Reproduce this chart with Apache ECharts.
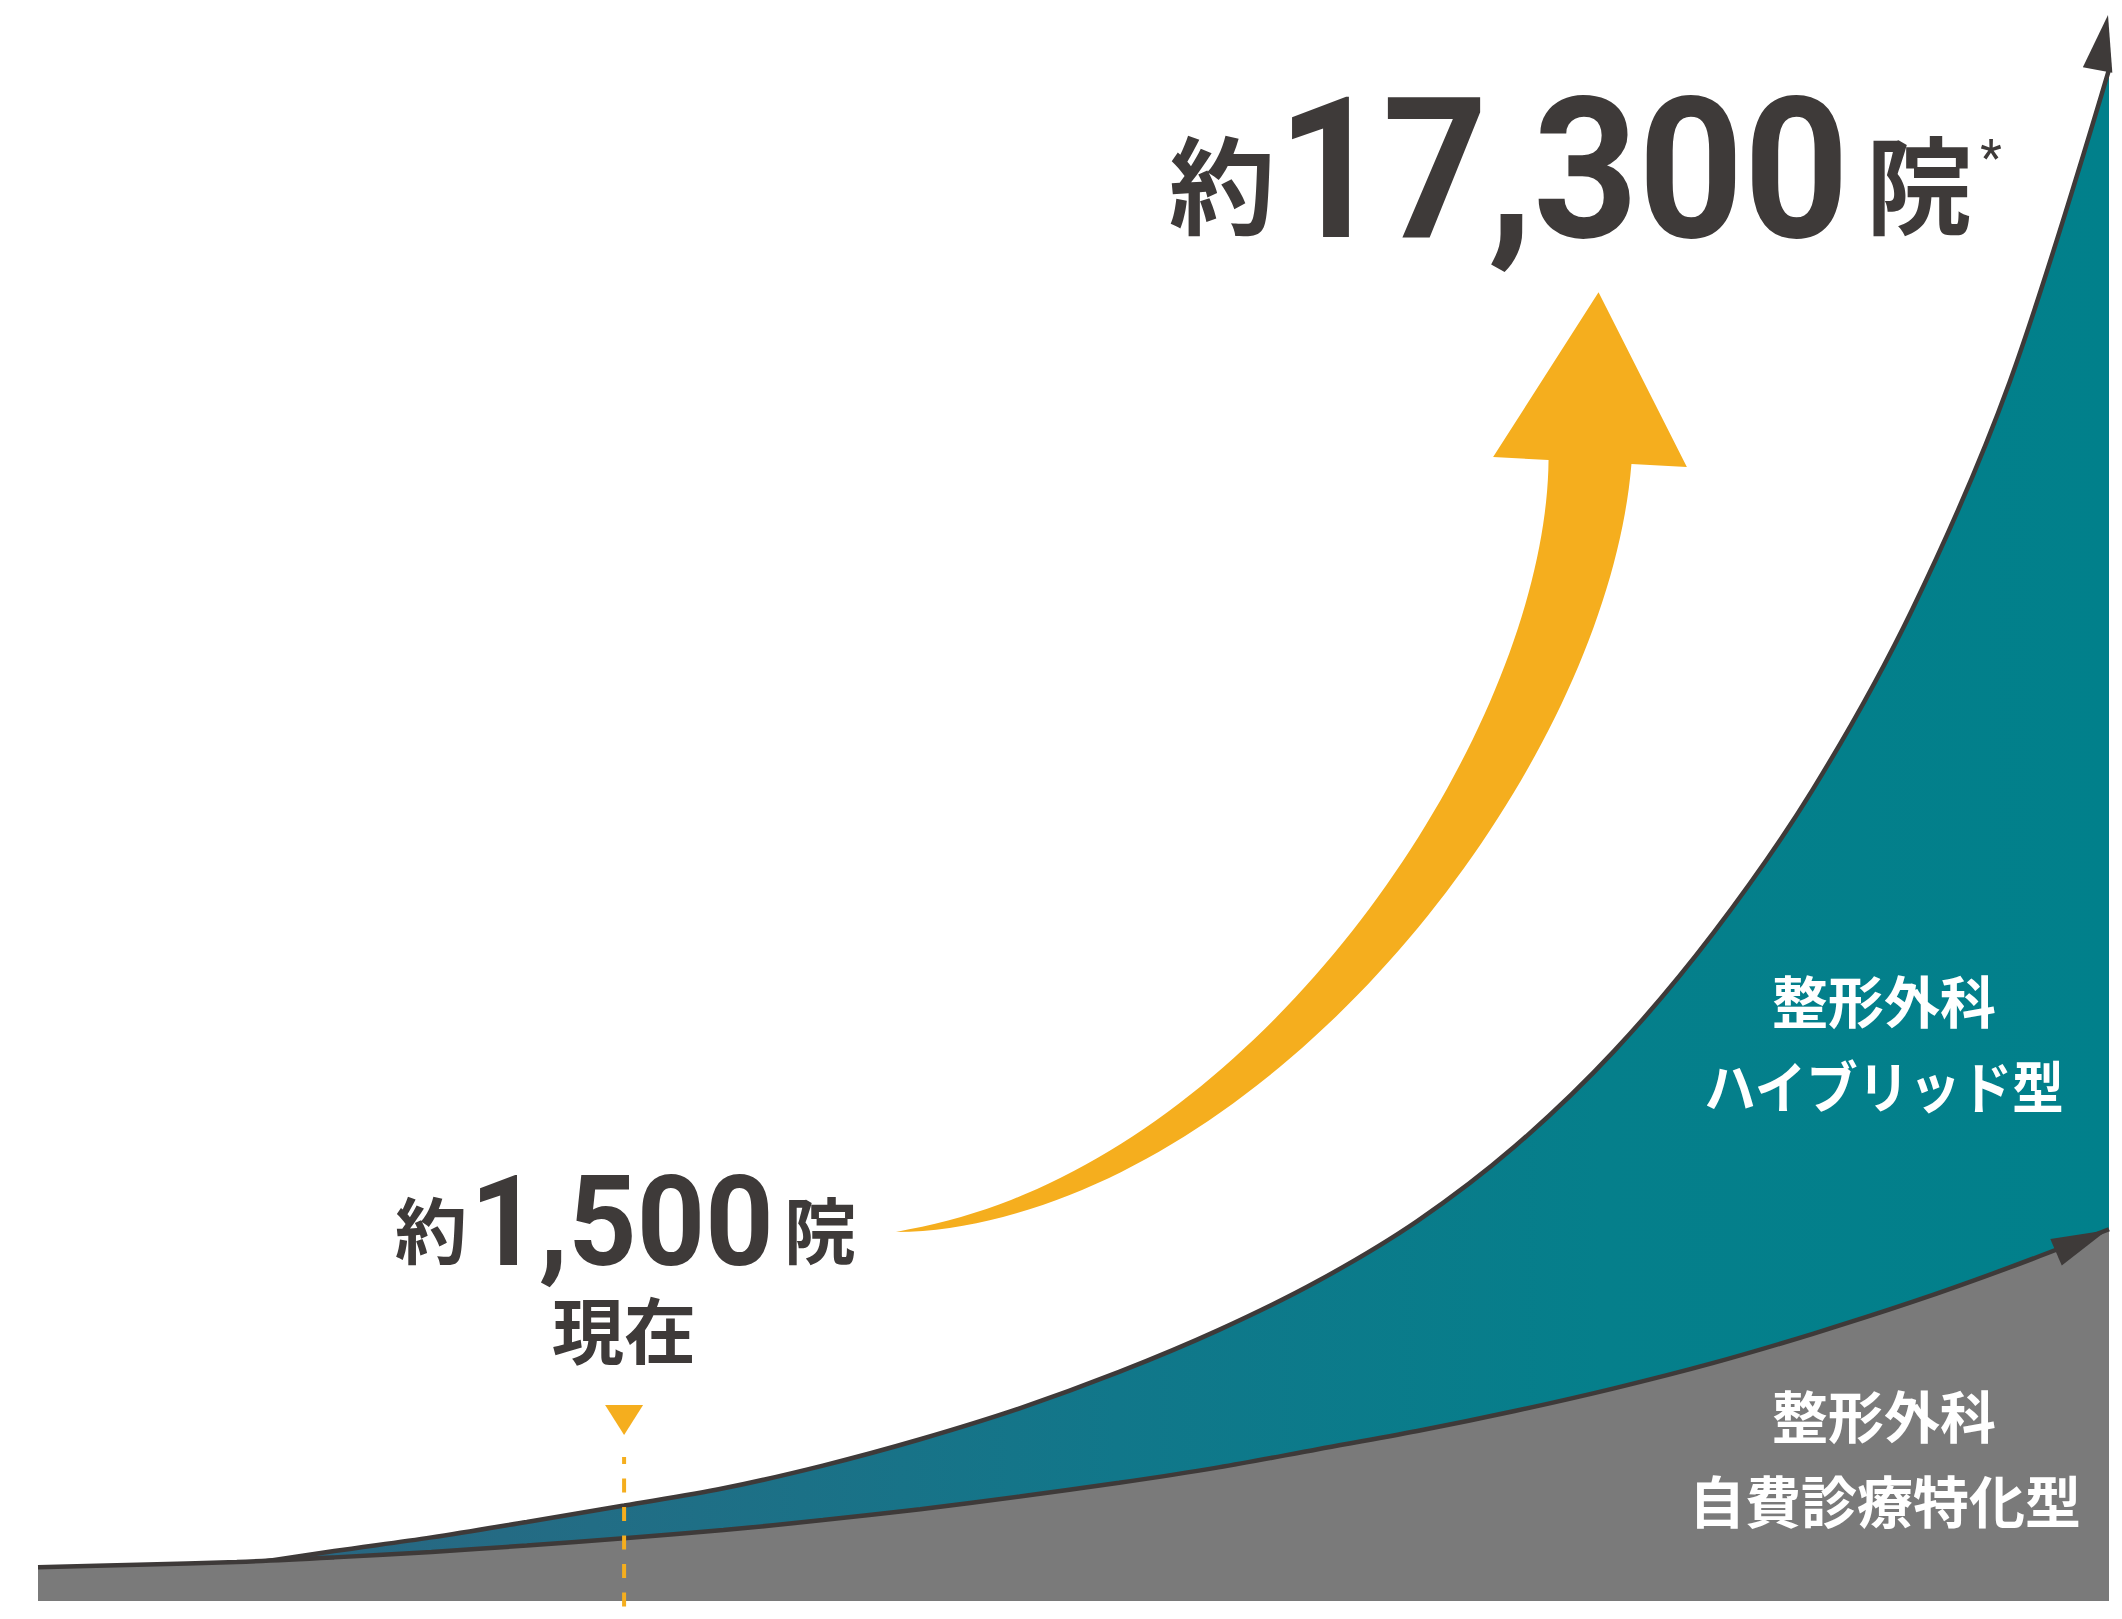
<!DOCTYPE html>
<html>
<head>
<meta charset="utf-8">
<script src="https://cdn.jsdelivr.net/npm/echarts@6/dist/echarts.min.js"></script>
<style>
  html, body { margin: 0; padding: 0; background: #ffffff; }
  #chart { width: 2122px; height: 1619px; }
</style>
</head>
<body>
<div id="chart"></div>
<script>
// Outlook for orthopedic clinics: total (hybrid type on top) and self-pay specialised type.
// x: progress along the timeline (0–100), y: number of clinics.

// Sampling positions along the timeline
const timeline = [0, 4.8, 9.6, 14.3, 19.0, 23.6, 28.3, 33.1, 37.9, 42.6, 47.4,
                  52.2, 57.0, 61.8, 66.6, 71.3, 76.1, 80.9, 85.7, 90.5, 95.2, 100];

// Upper curve – all clinics (the hybrid band sits between this and the self-pay curve)
const totalClinics = [null, null, 840, 1000, 1150, 1320, 1500, 1690, 1940, 2230, 2570,
                      2970, 3430, 3970, 4630, 5450, 6500, 7800, 9380, 11360, 13860, 17300];

// Lower curve – self-pay specialised clinics
const selfPayClinics = [820, 850, 880, 930, 990, 1060, 1140, 1230, 1340, 1460, 1600,
                        1750, 1920, 2120, 2320, 2540, 2790, 3070, 3390, 3740, 4120, 4540];

// "Now" on the timeline and the headline figures
const nowX = 28.3;
const nowClinics = 1500;
const futureClinics = 17300;

const INK = '#3e3a39';
const ORANGE = '#f5ae1e';
const GRAY = '#7a7a7a';
const JP = '"Noto Sans CJK JP", "Noto Sans CJK SC", sans-serif';
const NUM = 'Roboto, "Noto Sans", sans-serif';

const pairs = (xs, ys) => xs.map((x, i) => [x, ys[i]]).filter(p => p[1] != null);
const last = a => a[a.length - 1];
const fmt = n => n.toLocaleString('en-US');

const chart = echarts.init(document.getElementById('chart'), null, { renderer: 'svg' });

chart.setOption({
  animation: false,
  backgroundColor: '#ffffff',
  grid: { left: 38, right: 13, top: 15, bottom: 18 },
  xAxis: { type: 'value', min: 0, max: 100, show: false },
  yAxis: { type: 'value', min: 450, max: 17900, show: false },
  series: [
    {
      name: '整形外科ハイブリッド型',
      type: 'line',
      data: pairs(timeline, totalClinics),
      smooth: 0.33,
      symbol: 'none',
      showSymbol: false,
      z: 2,
      lineStyle: { color: INK, width: 4.5 },
      areaStyle: {
        origin: 'start',
        opacity: 1,
        color: new echarts.graphic.LinearGradient(0, 0, 1, 0, [
          { offset: 0, color: '#2a6581' },
          { offset: 0.19, color: '#226d85' },
          { offset: 0.47, color: '#11778a' },
          { offset: 0.73, color: '#057f8b' },
          { offset: 1, color: '#01808b' }
        ])
      }
    },
    {
      name: '整形外科自費診療特化型',
      type: 'line',
      data: pairs(timeline, selfPayClinics),
      smooth: 0.33,
      symbol: 'none',
      showSymbol: false,
      z: 3,
      lineStyle: { color: INK, width: 4.5 },
      areaStyle: { origin: 'start', opacity: 1, color: GRAY }
    }
  ]
});

// ---- annotations -------------------------------------------------------

// Triangular head at the end of a curve: tip position, pointing direction, length, width
function arrowHead(tip, dir, len, width) {
  const L = Math.hypot(dir[0], dir[1]);
  const ux = dir[0] / L, uy = dir[1] / L;
  const nx = -uy, ny = ux;
  const bx = tip[0] - ux * len, by = tip[1] - uy * len;
  return [
    tip,
    [bx + nx * width / 2, by + ny * width / 2],
    [bx - nx * width / 2, by - ny * width / 2]
  ];
}

// Tapered curved arrow following a cubic Bézier centre line
function curvedArrow(p0, p1, p2, p3, bodyW, headW, headL, n) {
  const pt = t => {
    const u = 1 - t;
    return [
      u * u * u * p0[0] + 3 * u * u * t * p1[0] + 3 * u * t * t * p2[0] + t * t * t * p3[0],
      u * u * u * p0[1] + 3 * u * u * t * p1[1] + 3 * u * t * t * p2[1] + t * t * t * p3[1]
    ];
  };
  const dt = t => {
    const u = 1 - t;
    return [
      3 * u * u * (p1[0] - p0[0]) + 6 * u * t * (p2[0] - p1[0]) + 3 * t * t * (p3[0] - p2[0]),
      3 * u * u * (p1[1] - p0[1]) + 6 * u * t * (p2[1] - p1[1]) + 3 * t * t * (p3[1] - p2[1])
    ];
  };
  const a = [], b = [];
  for (let i = 0; i <= n; i++) {
    const t = i / n;
    const p = pt(t), d = dt(t);
    const L = Math.hypot(d[0], d[1]) || 1;
    const nx = -d[1] / L, ny = d[0] / L;
    const w = bodyW / 2 * Math.pow(t, 0.8);
    a.push([p[0] + nx * w, p[1] + ny * w]);
    b.push([p[0] - nx * w, p[1] - ny * w]);
  }
  const d = dt(1), L = Math.hypot(d[0], d[1]);
  const ux = d[0] / L, uy = d[1] / L, nx = -uy, ny = ux;
  const head = [
    [p3[0] + nx * headW / 2, p3[1] + ny * headW / 2],
    [p3[0] + ux * headL, p3[1] + uy * headL],
    [p3[0] - nx * headW / 2, p3[1] - ny * headW / 2]
  ];
  return a.concat(head, b.reverse());
}

const toPx = v => chart.convertToPixel({ gridIndex: 0 }, v);
const totalEnd = toPx([last(timeline), last(totalClinics)]);
const selfPayEnd = toPx([last(timeline), last(selfPayClinics)]);
const nowPx = toPx([nowX, nowClinics]);
const bottomPx = chart.getHeight();

const labels = [
  // headline figure at the end of the growth curve
  { t: '約', x: 1222, y: 180, size: 106, fam: JP, color: INK },
  { t: fmt(futureClinics), x: 1563, y: 170, size: 196, fam: NUM, color: INK, sx: 0.937 },
  { t: '院', x: 1919, y: 180, size: 106, fam: JP, color: INK },
  { t: '*', x: 1991, y: 158, size: 50, fam: NUM, color: INK, weight: 400 },
  // current figure
  { t: '約', x: 431, y: 1226, size: 72, fam: JP, color: INK },
  { t: fmt(nowClinics), x: 622, y: 1222, size: 127, fam: NUM, color: INK, sx: 0.94 },
  { t: '院', x: 820, y: 1226, size: 72, fam: JP, color: INK },
  { t: '現在', x: nowPx[0], y: 1326, size: 72, fam: JP, color: INK },
  // band names
  { t: '整形外科', x: 1884, y: 998, size: 56, fam: JP, color: '#ffffff' },
  { t: 'ハイブリッド型', x: 1884, y: 1084, size: 56, fam: JP, color: '#ffffff', sx: 0.92 },
  { t: '整形外科', x: 1884, y: 1413, size: 56, fam: JP, color: '#ffffff' },
  { t: '自費診療特化型', x: 1885, y: 1498, size: 56, fam: JP, color: '#ffffff' }
];

const graphics = [
  // growth arrow
  {
    type: 'polygon', z: 100,
    shape: { points: curvedArrow([896, 1232], [1250, 1200], [1575, 760], [1590, 462], 83, 194, 170, 80) },
    style: { fill: ORANGE }
  },
  // arrowheads on the two curves
  {
    type: 'polygon', z: 100,
    shape: { points: arrowHead([totalEnd[0] - 1, totalEnd[1] - 54.5], [10.5, -55.5], 56, 30) },
    style: { fill: INK }
  },
  {
    type: 'polygon', z: 100,
    shape: { points: arrowHead([selfPayEnd[0] - 2, selfPayEnd[1] + 1], [51, -22], 55.5, 29) },
    style: { fill: INK }
  },
  // "now" marker
  {
    type: 'line', z: 100,
    shape: { x1: nowPx[0], y1: 1457, x2: nowPx[0], y2: bottomPx },
    style: { stroke: ORANGE, lineWidth: 4, lineDash: [14, 14.5], lineDashOffset: 7 }
  },
  {
    type: 'polygon', z: 100,
    shape: { points: [[nowPx[0] - 19, 1405], [nowPx[0] + 19, 1405], [nowPx[0], 1435]] },
    style: { fill: ORANGE }
  }
].concat(labels.map(l => ({
  type: 'text', z: 101,
  x: l.x, y: l.y,
  scaleX: l.sx || 1,
  style: {
    text: l.t,
    fill: l.color,
    fontSize: l.size,
    fontFamily: l.fam,
    fontWeight: l.weight || 700,
    align: 'center', verticalAlign: 'middle',
    textAlign: 'center', textVerticalAlign: 'middle'
  }
})));

chart.setOption({ graphic: graphics });
</script>
</body>
</html>
